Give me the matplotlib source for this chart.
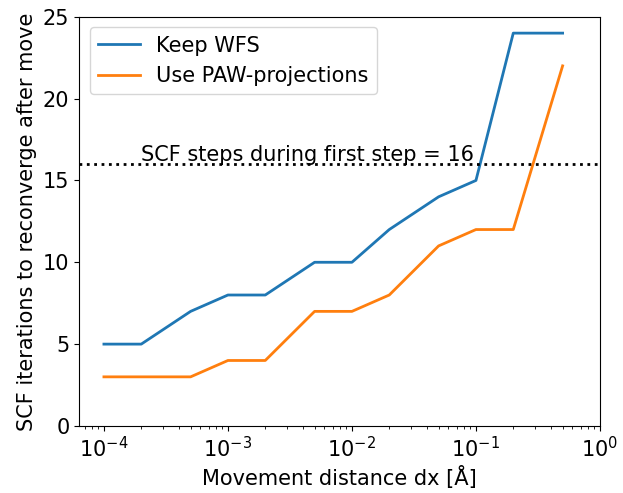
import matplotlib
matplotlib.use("Agg")
import matplotlib.pyplot as plt

dx = [1e-4, 2e-4, 5e-4, 1e-3, 2e-3, 5e-3, 1e-2, 2e-2, 5e-2, 1e-1, 2e-1, 5e-1]
keep_wfs = [5, 5, 7, 8, 8, 10, 10, 12, 14, 15, 24, 24]
paw_proj = [3, 3, 3, 4, 4, 7, 7, 8, 11, 12, 12, 22]
first_step = 16

plt.rcParams["font.size"] = 15

fig = plt.figure(figsize=(6.23, 4.93), dpi=100)
ax = fig.add_axes([0.127, 0.136, 0.836, 0.83])

ax.plot(dx, keep_wfs, lw=2, label="Keep WFS")
ax.plot(dx, paw_proj, lw=2, label="Use PAW-projections")
ax.axhline(first_step, color="k", ls=":", lw=2)
ax.text(2e-4, first_step + 0.2, f"SCF steps during first step = {first_step}")

ax.set_xscale("log")
ax.set_xlim(10**-4.2, 1)
ax.set_ylim(0, 25)
ax.set_xlabel("Movement distance dx [Å]")
ax.set_ylabel("SCF iterations to reconverge after move")
ax.legend(loc="upper left")

fig.savefig("out.png")
